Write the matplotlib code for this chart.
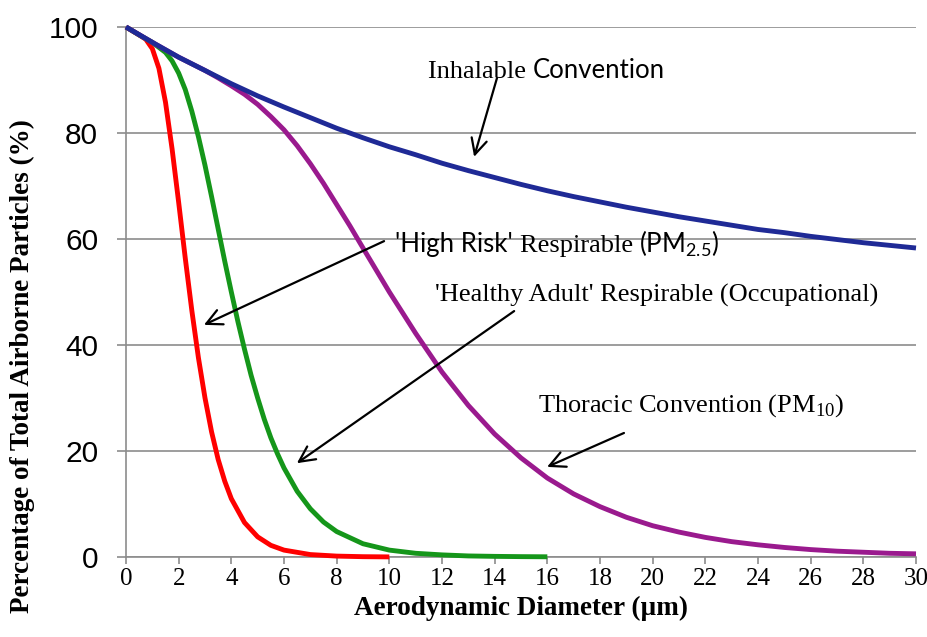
import matplotlib
matplotlib.use("Agg")
import matplotlib.pyplot as plt

plt.rcParams['mathtext.fontset'] = 'custom'
plt.rcParams['mathtext.rm'] = 'Liberation Serif'
plt.rcParams['mathtext.sf'] = 'Lato'

# 値は図から読み取ったもの
# 吸入性 (Inhalable)
d_inh = [0, 1, 2, 3, 4, 5, 6, 7, 8, 9, 10, 11, 12, 13, 14, 15, 16, 17, 18, 19, 20,
         21, 22, 23, 24, 25, 26, 27, 28, 29, 30]
p_inh = [100, 97.1, 94.3, 91.8, 89.3, 87.0, 84.9, 82.9, 80.9, 79.1, 77.4, 75.9, 74.3,
         72.9, 71.6, 70.3, 69.1, 68.0, 67.0, 66.0, 65.1, 64.2, 63.4, 62.6, 61.8, 61.2,
         60.5, 59.9, 59.3, 58.8, 58.3]

# 胸郭性 (Thoracic, PM10)
d_tho = [0, 1, 2, 3, 3.5, 4, 4.5, 5, 5.5, 6, 6.5, 7, 7.5, 8, 8.5, 9, 10, 11, 12, 13,
         14, 15, 16, 17, 18, 19, 20, 21, 22, 23, 24, 25, 26, 27, 28, 29, 30]
p_tho = [100, 97.1, 94.3, 91.8, 90.4, 88.9, 87.3, 85.4, 83.1, 80.6, 77.6, 74.2, 70.5,
         66.5, 62.5, 58.3, 50.0, 42.2, 34.9, 28.6, 23.2, 18.7, 14.9, 11.9, 9.5, 7.5,
         5.9, 4.7, 3.7, 2.9, 2.3, 1.8, 1.4, 1.1, 0.9, 0.7, 0.6]

# 健康な成人の吸入性 (Respirable)
d_res = [0, 0.5, 1, 1.5, 1.75, 2, 2.25, 2.5, 2.75, 3, 3.25, 3.5, 3.75, 4, 4.25, 4.5,
         4.75, 5, 5.25, 5.5, 5.75, 6, 6.5, 7, 7.5, 8, 9, 10, 11, 12, 13, 14, 15, 16]
p_res = [100, 98.5, 97.1, 95.2, 93.6, 91.3, 88.2, 84.1, 79.3, 73.9, 68.0, 61.9, 55.8,
         50.0, 44.4, 39.2, 34.3, 30.0, 26.0, 22.5, 19.5, 16.8, 12.4, 9.1, 6.6, 4.8,
         2.5, 1.3, 0.7, 0.4, 0.2, 0.12, 0.07, 0.04]

# 高リスク群 (PM2.5)
d_hr = [0, 0.5, 0.75, 1, 1.25, 1.5, 1.75, 2, 2.25, 2.5, 2.75, 3, 3.25, 3.5, 3.75, 4,
        4.5, 5, 5.5, 6, 7, 8, 9, 10]
p_hr = [100, 98.5, 97.7, 95.9, 92.2, 85.8, 77.0, 66.9, 56.4, 46.5, 37.6, 30.0, 23.6,
        18.4, 14.3, 11.0, 6.5, 3.8, 2.2, 1.3, 0.46, 0.17, 0.06, 0.02]

x_ticks = list(range(0, 31, 2))
y_ticks = [0, 20, 40, 60, 80, 100]

fig = plt.figure(figsize=(9.28, 6.37), dpi=100)
ax = fig.add_axes([126 / 928, 1 - 557 / 637, 790 / 928, 530 / 637])

lw = 3.5
ax.plot(d_hr, p_hr, color='#ff0000', lw=lw, clip_on=False, solid_capstyle='butt', zorder=3)
ax.plot(d_res, p_res, color='#15961a', lw=lw, clip_on=False, solid_capstyle='butt', zorder=3)
ax.plot(d_tho, p_tho, color='#9a1a8e', lw=lw, clip_on=False, solid_capstyle='butt', zorder=3)
ax.plot(d_inh, p_inh, color='#1f2a96', lw=lw, clip_on=False, solid_capstyle='butt', zorder=3)

ax.set_xlim(0, 30)
ax.set_ylim(0, 100)
ax.set_xticks(x_ticks)
ax.set_yticks(y_ticks)
ax.set_xticklabels([str(t) for t in x_ticks], fontfamily='Liberation Serif', fontsize=18)
ax.set_yticklabels([str(t) for t in y_ticks], fontfamily='Liberation Sans', fontsize=21.5)

grid_c = '#8c8c8c'
ax.yaxis.grid(True, color=grid_c, lw=1.2)
ax.set_axisbelow(True)
for s in ['top', 'right']:
    ax.spines[s].set_visible(False)
for s in ['left', 'bottom']:
    ax.spines[s].set_color(grid_c)
    ax.spines[s].set_linewidth(1.2)
ax.tick_params(axis='y', direction='out', length=6.5, width=1.2, color=grid_c, pad=13.5)
ax.tick_params(axis='x', direction='out', length=5, width=1.2, color=grid_c, pad=3)

ax.set_xlabel('Aerodynamic Diameter (µm)', fontfamily='Liberation Serif',
              fontweight='bold', fontsize=19.5, labelpad=4)
fig.text(22 / 928, 1 - 366 / 637, 'Percentage of Total Airborne Particles (%)',
         fontfamily='Liberation Serif', fontweight='bold', fontsize=19.5,
         rotation=90, ha='center', va='center')

fs = 19
serif = dict(fontfamily='Liberation Serif', fontsize=fs, va='baseline')
sans = dict(fontfamily='Lato', fontsize=fs - 0.5, va='baseline')
arrow = dict(arrowstyle='->', color='black', lw=1.6, mutation_scale=28, shrinkA=0, shrinkB=0)


def chain(x, y, parts):
    # 異なるフォントの文字列を同じベースラインで横に並べる
    for s, style in parts:
        t = ax.text(x, y, s, **style)
        fig.canvas.draw()
        bb = t.get_window_extent()
        x = ax.transData.inverted().transform((bb.x1, 0))[0]


# Inhalable Convention
chain(11.47, 90.4, [('Inhalable ', serif), ('Convention', sans)])
ax.annotate('', xy=(13.22, 75.5), xytext=(14.09, 90.4), arrowprops=arrow)

# 'High Risk' Respirable (PM2.5)
chain(10.22, 57.5, [("'High Risk' ", sans), ('Respirable ', serif),
                    (r'(PM$_{\mathsf{2.5}}$)', sans)])
ax.annotate('', xy=(2.96, 43.8), xytext=(9.80, 59.6), arrowprops=arrow)

# 'Healthy Adult' Respirable (Occupational)
ax.text(11.74, 48.1, "'Healthy Adult' Respirable (Occupational)", **serif)
ax.annotate('', xy=(6.49, 17.7), xytext=(14.74, 46.4), arrowprops=arrow)

# Thoracic Convention (PM10)
ax.text(15.65, 27.5, r'Thoracic Convention (PM$_{\mathrm{10}}$)', **serif)
ax.annotate('', xy=(15.99, 17.0), xytext=(18.91, 23.4), arrowprops=arrow)

plt.savefig('out.png', dpi=100)
